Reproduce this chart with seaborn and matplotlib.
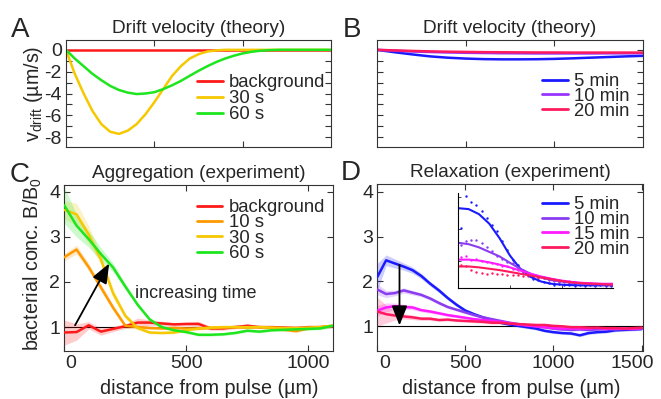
import numpy as np
import pandas as pd
import matplotlib
matplotlib.use('Agg')
import matplotlib.pyplot as plt
from matplotlib.transforms import ScaledTranslation
import seaborn as sns

# ---------------- data ----------------
# A: theory drift velocity, short times
dist_a = [0, 50, 100, 150, 200, 250, 300, 350, 400, 450, 500, 550, 600, 650, 700, 750,
          800, 850, 900, 950, 1000, 1050, 1100, 1150, 1200, 1250, 1300, 1350, 1400, 1450, 1500]
vd_background = [0, 0, 0, 0, 0, 0, 0, 0, 0, 0, 0, 0, 0, 0, 0, 0,
                 0, 0, 0, 0, 0, 0, 0, 0, 0, 0, 0, 0, 0, 0, 0]
vd_30s = [0, -2.2, -4.0, -5.6, -6.8, -7.5, -7.7, -7.4, -6.8, -5.9, -4.8, -3.6, -2.4, -1.5, -0.8, -0.4,
          -0.15, -0.05, 0, 0, 0, 0, 0, 0, 0, 0, 0, 0, 0, 0, 0]
vd_60s = [0, -0.8, -1.5, -2.2, -2.78, -3.3, -3.68, -3.92, -4.05, -4.0, -3.88, -3.6, -3.25, -2.85, -2.38, -1.92,
          -1.5, -1.12, -0.8, -0.54, -0.33, -0.18, -0.08, -0.03, 0, 0, 0, 0, 0, 0, 0]

# B: theory drift velocity, long times
dist_b = [0, 100, 200, 300, 400, 500, 600, 700, 800, 900, 1000, 1100, 1200, 1300, 1400, 1500]
vd_5min = [0, -0.22, -0.42, -0.6, -0.72, -0.8, -0.85, -0.87, -0.87, -0.86, -0.83, -0.78, -0.72, -0.66, -0.6, -0.55]
vd_10min = [0, -0.08, -0.15, -0.2, -0.24, -0.27, -0.29, -0.31, -0.32, -0.33, -0.33, -0.33, -0.33, -0.32, -0.32, -0.31]
vd_20min = [0, -0.05, -0.1, -0.14, -0.17, -0.19, -0.21, -0.22, -0.23, -0.24, -0.24, -0.25, -0.25, -0.25, -0.25, -0.25]

# C: aggregation experiment
dist_c = [0, 50, 100, 150, 200, 250, 300, 350, 400, 450, 500, 550, 600, 650, 700, 750,
          800, 850, 900, 950, 1000, 1050, 1100]
agg_background = [0.88, 0.89, 1.04, 0.9, 0.96, 1.02, 1.1, 1.1, 1.08, 1.06, 1.07, 1.07, 0.97, 0.97, 1.0, 1.03,
                  1.0, 1.0, 0.99, 0.98, 1.0, 1.0, 1.02]
agg_background_err = [0.28, 0.18, 0.08, 0.08, 0.06, 0.05, 0.1, 0.06, 0.05, 0.04, 0.04, 0.06, 0.04, 0.04, 0.04, 0.04,
                      0.03, 0.03, 0.03, 0.03, 0.03, 0.03, 0.03]
agg_10s = [2.55, 2.72, 2.33, 1.88, 1.43, 1.03, 1.0, 0.98, 0.97, 0.98, 0.97, 0.97, 0.98, 0.99, 1.0, 0.99,
           1.0, 0.98, 0.94, 0.91, 0.97, 1.0, 1.03]
agg_10s_err = [0.08, 0.1, 0.08, 0.08, 0.07, 0.05, 0.04, 0.03, 0.03, 0.03, 0.03, 0.03, 0.03, 0.03, 0.03, 0.03,
               0.03, 0.03, 0.03, 0.03, 0.03, 0.03, 0.03]
agg_30s = [3.6, 3.5, 3.05, 2.5, 1.75, 1.25, 0.98, 0.88, 0.87, 0.88, 0.93, 0.97, 0.99, 1.0, 1.0, 1.0,
           1.0, 0.99, 0.98, 0.98, 0.99, 1.0, 1.03]
agg_30s_err = [0.2, 0.25, 0.2, 0.12, 0.1, 0.06, 0.04, 0.03, 0.03, 0.03, 0.03, 0.03, 0.03, 0.03, 0.03, 0.03,
               0.03, 0.03, 0.03, 0.03, 0.03, 0.03, 0.03]
agg_60s = [3.7, 3.25, 2.95, 2.62, 2.32, 1.9, 1.5, 1.17, 1.0, 0.93, 0.89, 0.83, 0.83, 0.84, 0.87, 0.92,
           0.9, 0.93, 0.94, 0.95, 0.96, 0.97, 1.03]
agg_60s_err = [0.4, 0.25, 0.18, 0.14, 0.1, 0.07, 0.05, 0.04, 0.03, 0.03, 0.03, 0.03, 0.03, 0.03, 0.03, 0.03,
               0.03, 0.03, 0.03, 0.03, 0.03, 0.03, 0.03]

# D: relaxation experiment
dist_d = [0, 50, 100, 150, 200, 250, 300, 350, 400, 450, 500, 550, 600, 650, 700, 750,
          800, 850, 900, 950, 1000, 1050, 1100, 1150, 1200, 1250, 1300, 1350, 1400, 1450, 1500]
rel_5min = [2.1, 2.47, 2.4, 2.33, 2.25, 2.12, 1.95, 1.8, 1.63, 1.48, 1.35, 1.27, 1.2, 1.14, 1.08, 1.04,
            1.01, 0.98, 0.95, 0.9, 0.87, 0.85, 0.84, 0.8, 0.85, 0.87, 0.88, 0.91, 0.92, 0.93, 0.94]
rel_5min_err = [0.3, 0.12, 0.1, 0.08, 0.07, 0.06, 0.05, 0.05, 0.04, 0.04, 0.04, 0.03, 0.03, 0.03, 0.03, 0.03,
                0.03, 0.03, 0.03, 0.03, 0.03, 0.03, 0.03, 0.03, 0.03, 0.03, 0.03, 0.03, 0.03, 0.03, 0.03]
rel_10min = [1.82, 1.72, 1.74, 1.8, 1.75, 1.7, 1.62, 1.52, 1.43, 1.37, 1.31, 1.25, 1.2, 1.16, 1.12, 1.08,
             1.05, 1.02, 1.0, 0.98, 0.95, 0.93, 0.92, 0.93, 0.92, 0.93, 0.94, 0.93, 0.94, 0.94, 0.95]
rel_10min_err = [0.12, 0.08, 0.06, 0.06, 0.05, 0.04, 0.04, 0.04, 0.03, 0.03, 0.03, 0.03, 0.03, 0.03, 0.03, 0.03,
                 0.03, 0.03, 0.03, 0.03, 0.03, 0.03, 0.03, 0.03, 0.03, 0.03, 0.03, 0.03, 0.03, 0.03, 0.03]
rel_15min = [1.35, 1.42, 1.45, 1.43, 1.42, 1.36, 1.33, 1.29, 1.25, 1.22, 1.19, 1.16, 1.14, 1.12, 1.1, 1.07,
             1.04, 1.02, 1.0, 0.98, 0.96, 0.95, 0.95, 0.95, 0.95, 0.96, 0.94, 0.95, 0.95, 0.94, 0.96]
rel_15min_err = [0.12, 0.1, 0.07, 0.06, 0.05, 0.04, 0.04, 0.03, 0.03, 0.03, 0.03, 0.03, 0.03, 0.03, 0.03, 0.03,
                 0.03, 0.03, 0.03, 0.03, 0.03, 0.03, 0.03, 0.03, 0.03, 0.03, 0.03, 0.03, 0.03, 0.03, 0.03]
rel_20min = [1.33, 1.27, 1.24, 1.22, 1.2, 1.17, 1.17, 1.14, 1.15, 1.13, 1.12, 1.11, 1.1, 1.08, 1.08, 1.06,
             1.05, 1.04, 1.03, 1.03, 1.01, 1.0, 0.98, 0.98, 0.97, 0.97, 0.96, 0.96, 0.95, 0.96, 0.97]
rel_20min_err = [0.32, 0.2, 0.1, 0.06, 0.05, 0.04, 0.04, 0.03, 0.03, 0.03, 0.03, 0.03, 0.03, 0.03, 0.03, 0.03,
                 0.03, 0.03, 0.03, 0.03, 0.03, 0.03, 0.03, 0.03, 0.03, 0.03, 0.03, 0.03, 0.03, 0.03, 0.03]

# D inset: fits (lines) and measured points (dots)
inset_fit_x = [0, 100, 200, 300, 400, 500, 600, 700, 800, 900, 1000, 1100, 1200, 1300, 1400, 1500]
fit_5min = [2.66, 2.64, 2.53, 2.32, 2.0, 1.62, 1.33, 1.15, 1.05, 1.0, 0.98, 0.97, 0.965, 0.965, 0.965, 0.965]
fit_10min = [1.9, 1.87, 1.8, 1.7, 1.6, 1.46, 1.33, 1.22, 1.14, 1.08, 1.05, 1.02, 1.0, 0.99, 0.985, 0.98]
fit_15min = [1.53, 1.53, 1.51, 1.47, 1.42, 1.36, 1.29, 1.22, 1.16, 1.11, 1.07, 1.04, 1.02, 1.01, 1.0, 1.0]
fit_20min = [1.38, 1.38, 1.36, 1.33, 1.3, 1.26, 1.22, 1.18, 1.14, 1.1, 1.06, 1.03, 1.01, 1.0, 0.99, 0.98]
inset_pts_x = [25, 75, 125, 175, 225, 275, 325, 375, 425, 475, 525, 575, 625, 675, 725, 775,
               825, 875, 925, 975, 1025, 1075, 1125, 1175, 1225, 1275, 1325, 1375, 1425, 1475]
pts_5min = [2.22, 2.92, 2.8, 2.72, 2.6, 2.45, 2.3, 2.15, 1.95, 1.75, 1.52, 1.42, 1.25, 1.2, 1.1, 1.08,
            1.03, 1.02, 0.98, 0.99, 0.97, 0.98, 0.96, 0.97, 0.96, 0.97, 0.96, 0.97, 0.96, 0.96]
pts_10min = [1.85, 1.95, 1.97, 1.96, 1.9, 1.8, 1.72, 1.62, 1.55, 1.47, 1.45, 1.35, 1.3, 1.23, 1.2, 1.15,
             1.12, 1.08, 1.07, 1.04, 1.04, 1.02, 1.0, 1.0, 0.99, 0.99, 0.98, 0.99, 0.98, 0.98]
pts_15min = [1.58, 1.6, 1.52, 1.55, 1.5, 1.47, 1.46, 1.43, 1.4, 1.38, 1.33, 1.3, 1.27, 1.23, 1.2, 1.17,
             1.15, 1.12, 1.1, 1.08, 1.06, 1.05, 1.03, 1.02, 1.01, 1.01, 1.0, 1.0, 1.0, 1.0]
pts_20min = [1.42, 1.4, 1.3, 1.25, 1.24, 1.22, 1.24, 1.22, 1.21, 1.2, 1.2, 1.19, 1.18, 1.16, 1.15, 1.13,
             1.12, 1.1, 1.08, 1.06, 1.05, 1.04, 1.02, 1.02, 1.0, 1.0, 0.99, 0.99, 0.98, 0.98]

# colours
c_red = '#ff1a1a'
c_orange = '#ff9900'
c_yellow = '#f5c800'
c_green = '#1ee61e'
c_blue = '#1a1aff'
c_purple = '#8a3cf0'
c_magenta = '#ff1aff'
c_pink = '#ff1a5e'

# ---------------- style ----------------
sns.set_style('ticks')
plt.rcParams['font.family'] = ['Liberation Sans', 'DejaVu Sans']
plt.rcParams['mathtext.fontset'] = 'custom'
plt.rcParams['mathtext.rm'] = 'Liberation Sans'
plt.rcParams['axes.unicode_minus'] = False
plt.rcParams['axes.linewidth'] = 0.8
plt.rcParams['axes.edgecolor'] = '#333333'

TICK = 14
LAB = 14.2
TITLE = 13.7
LEG = 13.3

fig = plt.figure(figsize=(6.61, 3.99), dpi=100)
axA = fig.add_axes([0.0998, 0.6316, 0.4010, 0.2681])
axB = fig.add_axes([0.5703, 0.6316, 0.4025, 0.2681])
axC = fig.add_axes([0.0973, 0.1203, 0.4060, 0.4160])
axD = fig.add_axes([0.5708, 0.1203, 0.4024, 0.4185])


def style_axes(ax):
    ax.tick_params(which='both', direction='in', top=True, right=True, length=4, width=0.8,
                   labelsize=TICK, pad=3, color='#333333')


def legend(ax, handles, labels, anchor, transform=None, spacing=-0.12):
    leg = ax.legend(handles, labels, loc='upper left', bbox_to_anchor=anchor,
                    bbox_transform=transform, frameon=False,
                    fontsize=LEG, handlelength=1.4, handletextpad=0.35, labelspacing=spacing,
                    borderpad=0, borderaxespad=0)
    for line in leg.get_lines():
        line.set_linewidth(2)
    return leg


def shift_xlabel(ax, idx, dx_px):
    lab = ax.xaxis.get_major_ticks()[idx].label1
    lab.set_transform(lab.get_transform() + ScaledTranslation(dx_px / 100, 0, fig.dpi_scale_trans))


# ---- A ----
for vals, col, lab in [(vd_background, c_red, 'background'), (vd_30s, c_yellow, '30 s'),
                       (vd_60s, c_green, '60 s')]:
    sns.lineplot(x=dist_a, y=vals, ax=axA, color=col, lw=1.8, label=lab)
axA.set_xlim(0, 1500)
axA.set_ylim(-8.9, 0.9)
axA.set_xticks([500, 1000])
axA.set_yticks([-8, -6, -4, -2, 0])
axA.set_yticks([-7, -5, -3, -1], minor=True)
style_axes(axA)
axA.tick_params(labelbottom=False)
axA.set_title('Drift velocity (theory)', fontsize=TITLE, pad=5)
axA.set_ylabel(r'v$_{\mathrm{drift}}$ (µm/s)', fontsize=LAB)
axA.yaxis.set_label_coords(-0.078, 0.495)
h, l = axA.get_legend_handles_labels()
legend(axA, h, l, (0.493, 0.68), spacing=-0.05)

# ---- B ----
for vals, col, lab in [(vd_5min, c_blue, '5 min'), (vd_10min, '#9933ff', '10 min'),
                       (vd_20min, c_pink, '20 min')]:
    sns.lineplot(x=dist_b, y=vals, ax=axB, color=col, lw=1.8, label=lab)
axB.set_xlim(0, 1500)
axB.set_ylim(-8.9, 0.9)
axB.set_xticks([500, 1000])
axB.set_yticks([-8, -6, -4, -2, 0])
axB.set_yticks([-7, -5, -3, -1], minor=True)
style_axes(axB)
axB.tick_params(labelbottom=False, labelleft=False)
axB.set_title('Drift velocity (theory)', fontsize=TITLE, pad=5)
h, l = axB.get_legend_handles_labels()
legend(axB, h, l, (0.619, 0.69))

# ---- C ----
axC.axhline(1, color='k', lw=0.8, zorder=1)
for vals, err, col, lab in [(agg_background, agg_background_err, c_red, 'background'),
                            (agg_10s, agg_10s_err, c_orange, '10 s'),
                            (agg_30s, agg_30s_err, c_yellow, '30 s'),
                            (agg_60s, agg_60s_err, c_green, '60 s')]:
    v = np.array(vals)
    e = np.array(err)
    axC.fill_between(dist_c, v - e, v + e, color=col, alpha=0.22, lw=0, zorder=2)
    sns.lineplot(x=dist_c, y=vals, ax=axC, color=col, lw=1.8, label=lab, zorder=3)
axC.set_xlim(0, 1100)
axC.set_ylim(0.47, 4.15)
axC.set_xticks([0, 500, 1000])
axC.set_yticks([1, 2, 3, 4])
style_axes(axC)
shift_xlabel(axC, 0, 6)
axC.set_title('Aggregation (experiment)', fontsize=TITLE, pad=5)
axC.set_xlabel('distance from pulse (µm)', fontsize=LAB)
axC.xaxis.set_label_coords(0.54, -0.17)
axC.set_ylabel(r'bacterial conc. B/B$_0$', fontsize=LAB)
axC.yaxis.set_label_coords(-0.076, 0.524)
axC.annotate('', xy=(184, 2.41), xytext=(44, 1.04),
             arrowprops=dict(arrowstyle='-|>,head_length=0.4,head_width=0.16', color='k',
                             lw=1.3, mutation_scale=30, shrinkA=0, shrinkB=0), zorder=5)
axC.text(290, 1.75, 'increasing time', fontsize=13, va='center', ha='left')
h, l = axC.get_legend_handles_labels()
legend(axC, h, l, (0.493, 0.915), spacing=-0.09)

# ---- D ----
axD.axhline(1, color='k', lw=0.8, zorder=1)
for vals, err, col, lab in [(rel_5min, rel_5min_err, c_blue, '5 min'),
                            (rel_10min, rel_10min_err, c_purple, '10 min'),
                            (rel_15min, rel_15min_err, c_magenta, '15 min'),
                            (rel_20min, rel_20min_err, c_pink, '20 min')]:
    v = np.array(vals)
    e = np.array(err)
    axD.fill_between(dist_d, v - e, v + e, color=col, alpha=0.22, lw=0, zorder=2)
    sns.lineplot(x=dist_d, y=vals, ax=axD, color=col, lw=1.8, label=lab, zorder=3)
axD.set_xlim(0, 1510)
axD.set_ylim(0.45, 4.17)
axD.set_xticks([0, 500, 1000, 1500])
axD.set_yticks([1, 2, 3, 4])
style_axes(axD)
shift_xlabel(axD, 0, 7)
shift_xlabel(axD, 3, -9)
axD.set_title('Relaxation (experiment)', fontsize=TITLE, pad=5)
axD.set_xlabel('distance from pulse (µm)', fontsize=LAB)
axD.xaxis.set_label_coords(0.505, -0.17)
axD.annotate('', xy=(126, 1.02), xytext=(126, 2.37),
             arrowprops=dict(arrowstyle='-|>,head_length=0.4,head_width=0.16', color='k',
                             lw=1.3, mutation_scale=30, shrinkA=0, shrinkB=0), zorder=5)
hD, lD = axD.get_legend_handles_labels()
axD.get_legend().remove()

# inset
axI = fig.add_axes([0.6933, 0.2774, 0.2345, 0.2396])
axI.patch.set_alpha(0)
for fit, pts, col in [(fit_5min, pts_5min, c_blue), (fit_10min, pts_10min, c_purple),
                      (fit_15min, pts_15min, c_magenta), (fit_20min, pts_20min, c_pink)]:
    sns.scatterplot(x=inset_pts_x, y=pts, ax=axI, color=col, s=3, linewidth=0)
    sns.lineplot(x=inset_fit_x, y=fit, ax=axI, color=col, lw=1.5)
axI.set_xlim(0, 1500)
axI.set_ylim(0.9, 3.0)
axI.set_xticks([500, 1000])
axI.set_yticks([1.5, 2.2, 2.9])
for side in ['top', 'right']:
    axI.spines[side].set_visible(False)
for side in ['left', 'bottom']:
    axI.spines[side].set_color('k')
axI.tick_params(direction='in', length=2, width=0.6, labelleft=False, labelbottom=False)
legend(axI, hD, lD, (0.618, 0.926), transform=axD.transAxes)

# panel letters
fig.text(0.017, 0.908, 'A', fontsize=20, va='baseline')
fig.text(0.518, 0.908, 'B', fontsize=20, va='baseline')
fig.text(0.015, 0.545, 'C', fontsize=20, va='baseline')
fig.text(0.516, 0.549, 'D', fontsize=20, va='baseline')

fig.savefig('out.png', dpi=100)
